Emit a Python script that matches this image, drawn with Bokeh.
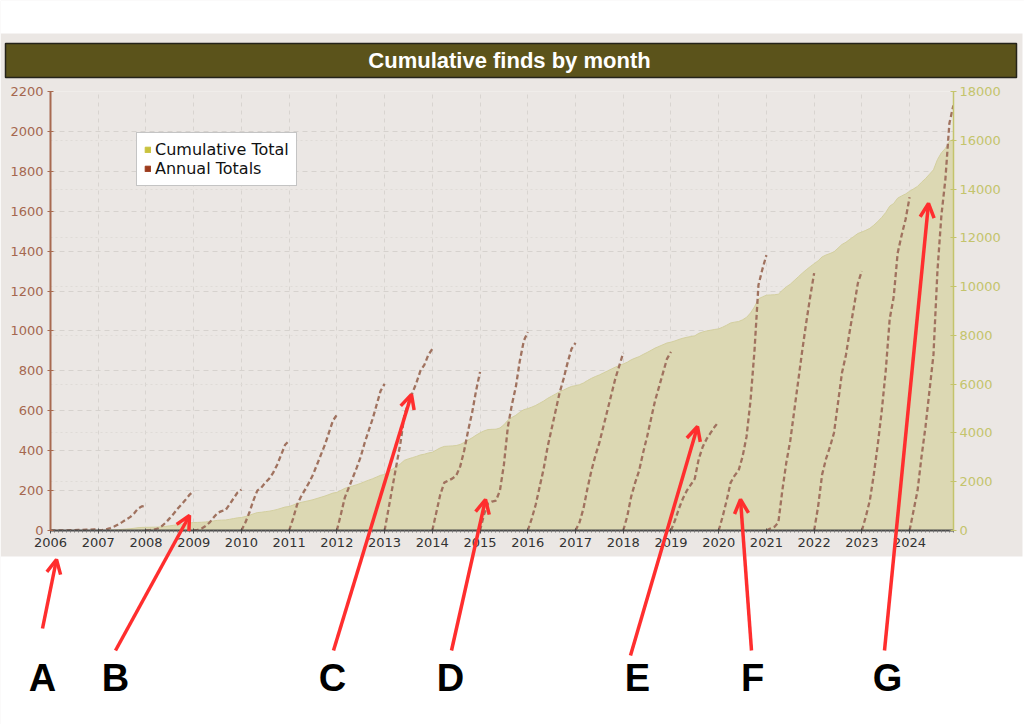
from bokeh.plotting import figure
from bokeh.models import (Range1d, LinearAxis, FixedTicker, Grid, Legend, LegendItem,
                          Arrow, OpenHead)
from bokeh.core.properties import value
from bokeh.embed import file_html
from bokeh.resources import INLINE

# ---------------- data ----------------
years = list(range(2006, 2025))

# within-year running totals at the start of each month (Jan..Dec) and year end
finds_2006 = [0, 0, 0, 1, 1, 2, 2, 3, 3, 4, 4, 5, 5]
finds_2007 = [0, 2, 6, 12, 20, 30, 42, 55, 67, 85, 110, 121, 125]
finds_2008 = [0, 2, 5, 10, 22, 40, 62, 85, 110, 132, 155, 180, 198]
finds_2009 = [0, 3, 10, 22, 40, 65, 88, 97, 102, 130, 160, 190, 205]
finds_2010 = [0, 40, 90, 150, 200, 215, 240, 260, 290, 330, 380, 430, 450]
finds_2011 = [0, 60, 130, 170, 205, 240, 280, 330, 380, 430, 490, 550, 580]
finds_2012 = [0, 80, 165, 215, 265, 315, 370, 440, 500, 560, 630, 700, 735]
finds_2013 = [0, 110, 220, 330, 440, 580, 640, 690, 740, 800, 830, 880, 910]
finds_2014 = [0, 90, 180, 240, 250, 260, 275, 320, 400, 500, 590, 700, 795]
finds_2015 = [0, 80, 135, 145, 150, 200, 330, 520, 630, 720, 850, 950, 995]
finds_2016 = [0, 60, 130, 220, 310, 420, 510, 600, 690, 760, 840, 910, 940]
finds_2017 = [0, 40, 110, 210, 300, 375, 440, 520, 600, 680, 760, 825, 890]
finds_2018 = [0, 70, 170, 240, 300, 390, 470, 560, 650, 720, 790, 860, 895]
finds_2019 = [0, 50, 110, 160, 200, 230, 260, 360, 420, 460, 490, 520, 545]
finds_2020 = [0, 70, 150, 240, 275, 300, 370, 470, 650, 900, 1230, 1310, 1380]
finds_2021 = [0, 10, 18, 40, 200, 340, 450, 600, 750, 900, 1040, 1170, 1290]
finds_2022 = [0, 120, 280, 360, 420, 490, 640, 790, 880, 1005, 1120, 1240, 1300]
finds_2023 = [0, 70, 150, 280, 430, 600, 800, 1060, 1170, 1390, 1480, 1560, 1670]
finds_2024 = [0, 100, 200, 370, 520, 700, 880, 1300, 1580, 1760, 2040, 2130]

annual_series = [finds_2006, finds_2007, finds_2008, finds_2009, finds_2010,
                 finds_2011, finds_2012, finds_2013, finds_2014, finds_2015,
                 finds_2016, finds_2017, finds_2018, finds_2019, finds_2020,
                 finds_2021, finds_2022, finds_2023, finds_2024]

left_ticks = list(range(0, 2201, 200))
right_ticks = list(range(0, 18001, 2000))

title_text = "Cumulative finds by month"
legend_labels = ["Cumulative Total", "Annual Totals"]
marker_letters = ["A", "B", "C", "D", "E", "F", "G"]

# ---------------- build series ----------------
xs_all, ys_all = [], []
cum_x, cum_y = [], []
running = 0
for yr, vals in zip(years, annual_series):
    xs = [yr + m / 12 for m in range(len(vals))]
    xs_all.append(xs)
    ys_all.append(vals)
    for x, v in zip(xs, vals):
        cum_x.append(x)
        cum_y.append(running + v)
    running += vals[-1]

month_ticks = [yr + m / 12 for yr in years for m in range(1, 12)]

# ---------------- layout constants (page pixels) ----------------
W, H = 1024, 724
FL, FR, FT, FB = 50, 71, 91, 194
PANEL = "#ebe7e4"

p = figure(width=W, height=H,
           x_range=Range1d(2006, 2024.92), y_range=Range1d(0, 2200),
           output_backend="svg", toolbar_location=None,
           min_border_left=FL, min_border_right=FR,
           min_border_top=FT, min_border_bottom=FB,
           background_fill_color=PANEL, border_fill_color=PANEL,
           outline_line_color=None)
p.extra_y_ranges = {"cum": Range1d(0, 18000)}

# grids
p.xgrid.ticker = FixedTicker(ticks=years)
p.xgrid.grid_line_color = "#d8d4d0"
p.xgrid.grid_line_dash = "4 4"
p.ygrid.ticker = FixedTicker(ticks=left_ticks)
p.ygrid.grid_line_color = "#d6d2ce"
p.ygrid.grid_line_dash = "5 4"
g2 = Grid(dimension=1, y_range_name="cum", ticker=FixedTicker(ticks=right_ticks),
          grid_line_color="#dfdbd7", grid_line_dash="2 3")
p.add_layout(g2)

# cumulative area
p.varea(x=cum_x, y1=0, y2=cum_y, y_range_name="cum",
        fill_color="#dcd8b3", fill_alpha=1.0)
p.line(cum_x, cum_y, y_range_name="cum", line_color="#d3cf9f", line_width=1)

# annual totals
p.multi_line(xs_all, ys_all, line_color="#a0725f", line_width=2.3, line_dash="5 3")

# legend swatches (rectangles placed outside the visible range)
r1 = p.quad(left=[1990], right=[1991], bottom=[-600], top=[-500],
            fill_color="#c9c23e", line_color="#c9c23e")
r2 = p.quad(left=[1990], right=[1991], bottom=[-600], top=[-500],
            fill_color="#9c3a1c", line_color="#9c3a1c")
legend = Legend(items=[LegendItem(label=legend_labels[0], renderers=[r1]),
                       LegendItem(label=legend_labels[1], renderers=[r2])],
                location=(86, 344), margin=0, padding=7, spacing=0,
                glyph_width=7, glyph_height=7, label_standoff=4, label_height=17,
                label_text_font="DejaVu Sans", label_text_font_size="16px",
                label_text_color="#111111",
                background_fill_color="white", background_fill_alpha=1.0,
                border_line_color="#8a8a8a", border_line_width=1)
p.add_layout(legend)

# left axis
la = p.yaxis[0]
la.ticker = FixedTicker(ticks=left_ticks)
la.axis_line_color = "#a86a50"
la.axis_line_width = 2
la.major_tick_line_color = "#a86a50"
la.major_tick_in = 3
la.major_tick_out = 3
la.minor_tick_line_color = None
la.major_label_text_color = "#a5674f"
la.major_label_text_font = "DejaVu Sans"
la.major_label_text_font_size = "13px"
la.major_label_standoff = 4

# right axis
ra = LinearAxis(y_range_name="cum", ticker=FixedTicker(ticks=right_ticks))
ra.axis_line_color = "#c4c46c"
ra.axis_line_width = 1.5
ra.major_tick_line_color = "#c4c46c"
ra.major_tick_in = 3
ra.major_tick_out = 3
ra.minor_tick_line_color = None
ra.major_label_text_color = "#c4c46c"
ra.major_label_text_font = "DejaVu Sans"
ra.major_label_text_font_size = "13px"
ra.major_label_standoff = 3
p.add_layout(ra, "right")

# bottom axis
xa = p.xaxis[0]
xa.ticker = FixedTicker(ticks=years, minor_ticks=month_ticks)
xa.axis_line_color = "#4a4a4a"
xa.axis_line_width = 2
xa.major_tick_line_color = "#4a4a4a"
xa.major_tick_in = 2
xa.major_tick_out = 3
xa.minor_tick_line_color = "#7a7a7a"
xa.minor_tick_in = 0
xa.minor_tick_out = 2
xa.major_label_text_color = "#333333"
xa.major_label_text_font = "DejaVu Sans"
xa.major_label_text_font_size = "13px"
xa.major_label_standoff = 4

# ---------------- decoration overlay (page pixel coordinates) ----------------
d = figure(width=W, height=H, x_range=Range1d(0, W), y_range=Range1d(H, 0),
           x_axis_type=None, y_axis_type=None,
           output_backend="svg", toolbar_location=None,
           min_border=0, min_border_left=0, min_border_right=0,
           min_border_top=0, min_border_bottom=0,
           background_fill_color=None, border_fill_color=None,
           outline_line_color=None)
d.styles = {"position": "absolute", "top": "0px", "left": "0px"}

# white page around the grey panel
d.quad(left=[0, 0, 1022], right=[W, W, W], top=[0, 556, 0], bottom=[33, H, H],
       fill_color="white", line_color=None)

# title bar
d.quad(left=[5], right=[1016], top=[43], bottom=[77],
       fill_color="#5b531b", line_color="#24231a", line_width=1.5)
d.text(x=[509], y=[60], text=[title_text], text_align="center", text_baseline="middle",
       text_font=value("Liberation Sans"), text_font_style="bold",
       text_font_size="22px", text_color="white")

# red arrows and letters
arrow_tails = [(42, 628), (115, 650), (333, 650), (451, 650), (630, 655), (751, 650), (884, 650)]
arrow_heads = [(56, 559), (189, 515), (411, 394), (485, 499), (697, 426), (740, 499), (928, 203)]
letter_x = [42, 115, 332, 450, 637, 752, 887]
letter_y = [677, 677, 677, 677, 677, 677, 677]

for (tx, ty), (hx, hy) in zip(arrow_tails, arrow_heads):
    d.add_layout(Arrow(x_start=tx, y_start=ty, x_end=hx, y_end=hy,
                       line_color="#ff2e2e", line_width=3.5,
                       end=OpenHead(size=14, line_color="#ff2e2e", line_width=3.5)))

d.text(x=letter_x, y=letter_y, text=marker_letters, text_align="center",
       text_baseline="middle", text_font=value("Liberation Sans"),
       text_font_style="bold", text_font_size="38px", text_color="black")

open("out.html", "w").write(file_html((p, d), INLINE))
